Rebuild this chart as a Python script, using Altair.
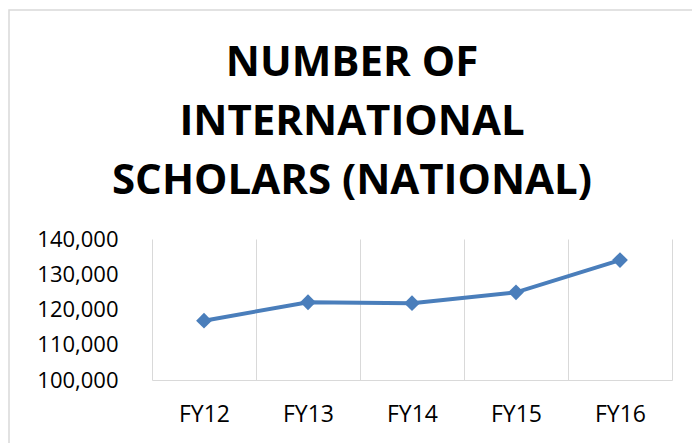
import altair as alt
import pandas as pd

years = ["FY12", "FY13", "FY14", "FY15", "FY16"]
scholars = [116826, 122059, 121800, 124861, 134014]
title_lines = ["NUMBER OF", "INTERNATIONAL", "SCHOLARS (NATIONAL)"]
y_ticks = [100000, 110000, 120000, 130000, 140000]

df = pd.DataFrame({"year": years, "scholars": scholars})

FONT = "Open Sans"
BLUE = "#4a7ebb"
GRID = "#d9d9d9"

x = alt.X(
    "year:N",
    sort=years,
    bandPosition=0.5,
    scale=alt.Scale(type="band", paddingInner=0, paddingOuter=0),
    axis=alt.Axis(
        title=None, labelAngle=0, tickBand="extent", grid=True,
        gridColor=GRID, gridWidth=1, domainColor=GRID, domainWidth=1,
        ticks=False, labelFont=FONT, labelFontSize=23, labelColor="#000",
        labelPadding=23,
    ),
)
y = alt.Y(
    "scholars:Q",
    scale=alt.Scale(domain=[100000, 140000]),
    axis=alt.Axis(
        title=None, values=y_ticks, format=",.0f", grid=False, domain=False,
        ticks=False, labelFont=FONT, labelFontSize=22, labelColor="#000",
        labelPadding=34,
    ),
)

base = alt.Chart(df)
line = base.mark_line(color=BLUE, strokeWidth=4).encode(x=x, y=y)
pts = base.mark_point(shape="diamond", filled=True, size=250, color=BLUE,
                      opacity=1).encode(x=x, y=y)

frame = alt.Chart(alt.Data(values=[{}])).mark_rect(
    fill=None, stroke=GRID, strokeWidth=1.5
).encode(
    x=alt.value(-143), x2=alt.value(545), y=alt.value(-229), y2=alt.value(215)
)

chart = alt.layer(frame, line, pts).properties(
    width=520,
    height=141,
    autosize=alt.AutoSizeParams(type="none"),
    padding={"left": 144, "top": 231, "right": 20, "bottom": 63},
    title=alt.TitleParams(
        text=title_lines, font=FONT, fontSize=42, fontWeight="bold",
        color="#000", lineHeight=59, anchor="middle", frame="group",
        dx=-60, offset=-194,
    ),
).configure_view(stroke=None)

chart.save("out.html", embed_options={"renderer": "svg", "actions": False})
